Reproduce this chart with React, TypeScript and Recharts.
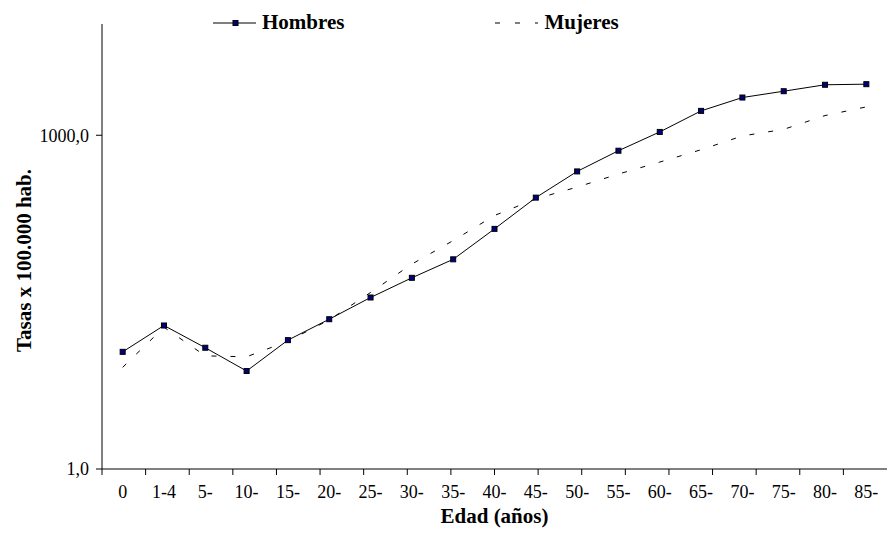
import { LineChart, Line, XAxis, YAxis, Legend } from "recharts";

const ages = ["0", "1-4", "5-", "10-", "15-", "20-", "25-", "30-", "35-", "40-", "45-", "50-", "55-", "60-", "65-", "70-", "75-", "80-", "85-"];
const hombres = [11.3, 19.5, 12.3, 7.6, 14.4, 22.2, 34.8, 52.3, 76.7, 144, 275, 473, 726, 1071, 1656, 2183, 2488, 2843, 2878];
const mujeres = [8.2, 18.8, 10.4, 10.2, 14.1, 21.9, 38.6, 69.5, 113, 190, 268, 342, 448, 574, 741, 986, 1130, 1503, 1799];
const yTicks = [1, 1000];

const data = ages.map((age, i) => ({ age, hombres: hombres[i], mujeres: mujeres[i] }));
// tick marks sit between categories, like the original Excel chart
const edgeTicks = Array.from({ length: ages.length + 1 }, (_, i) => i);

const FONT = '"Liberation Serif", "Times New Roman", serif';
const W = 889;
const H = 542;
const LEFT = 102;
const RIGHT = 2;
const band = (W - LEFT - RIGHT) / ages.length;

const SquareDot = (props: any) => {
  const { cx, cy } = props;
  if (cx == null || cy == null) return null;
  return <rect x={cx - 2.5} y={cy - 2.5} width={5} height={5} fill="#000080" stroke="#000" strokeWidth={1} />;
};

const LegendContent = (props: any) => {
  const { payload = [] } = props;
  return (
    <div style={{ display: "flex", alignItems: "center", fontFamily: FONT, fontWeight: "bold", fontSize: 21, color: "#000" }}>
      {payload.map((entry: any, i: number) => (
        <div key={entry.value} style={{ display: "flex", alignItems: "center", marginLeft: i === 0 ? 0 : 151 }}>
          <svg width={43} height={10}>
            <line x1={0} y1={5} x2={43} y2={5} stroke="#000" strokeWidth={1} strokeDasharray={i === 0 ? undefined : "5 15"} />
            {i === 0 && <rect x={20} y={2.5} width={5} height={5} fill="#000080" stroke="#000" />}
          </svg>
          <span style={{ marginLeft: 6 }}>{entry.value}</span>
        </div>
      ))}
    </div>
  );
};

const YTitle = (props: any) => {
  const { viewBox } = props;
  const x = viewBox.x + 24;
  const y = viewBox.y + viewBox.height / 2 + 14;
  return (
    <text x={x} y={y} transform={`rotate(-90, ${x}, ${y})`} textAnchor="middle" dominantBaseline="central"
      style={{ fontFamily: FONT, fontWeight: "bold", fontSize: 21, fill: "#000" }}>
      Tasas x 100.000 hab.
    </text>
  );
};

export default function App() {
  return (
    <div>
      <style>{"body{margin:0}"}</style>
      <LineChart width={W} height={H} data={data} margin={{ top: 24, right: RIGHT, left: 0, bottom: 0 }}>
        <XAxis xAxisId={0} type="number" domain={[0, ages.length]} ticks={edgeTicks} allowDataOverflow
          tickFormatter={() => ""} tickSize={6} height={6} axisLine={{ stroke: "#000" }} tickLine={{ stroke: "#000" }} />
        <XAxis xAxisId={1} dataKey="age" type="category" height={67} padding={{ left: band / 2, right: band / 2 }}
          axisLine={false} tickLine={false} tickSize={0} tickMargin={10} interval={0}
          tick={{ fontFamily: FONT, fontSize: 18, fill: "#000" }}
          label={{ value: "Edad (años)", position: "insideBottom", offset: 19, style: { fontFamily: FONT, fontWeight: "bold", fontSize: 21, fill: "#000" } }} />
        <YAxis scale="log" type="number" domain={[1, 10000]} ticks={yTicks} allowDataOverflow width={LEFT}
          tickFormatter={(v: number) => v.toFixed(1).replace(".", ",")}
          tickSize={6} tickMargin={7} axisLine={{ stroke: "#000" }} tickLine={{ stroke: "#000" }}
          tick={{ fontFamily: FONT, fontSize: 18, fill: "#000" }} label={YTitle} />
        <Legend layout="horizontal" verticalAlign="middle" align="center" content={LegendContent}
          wrapperStyle={{ top: 10, left: 213, width: 480, height: 26 }} />
        <Line xAxisId={1} type="linear" dataKey="hombres" name="Hombres" stroke="#000" strokeWidth={1}
          dot={SquareDot} activeDot={false} isAnimationActive={false} />
        <Line xAxisId={1} type="linear" dataKey="mujeres" name="Mujeres" stroke="#000" strokeWidth={1}
          strokeDasharray="5 14" dot={false} activeDot={false} isAnimationActive={false} />
      </LineChart>
    </div>
  );
}
